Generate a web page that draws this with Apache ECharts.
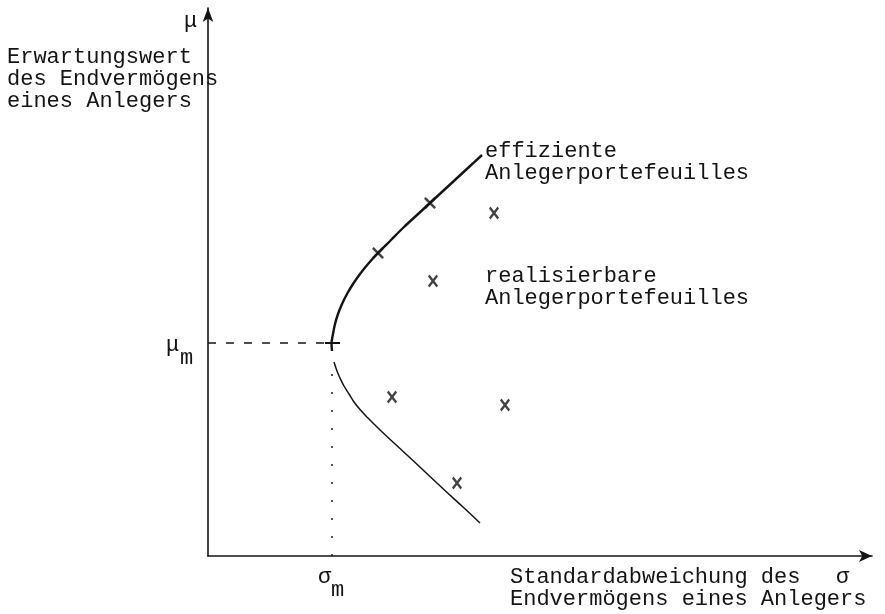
<!DOCTYPE html>
<html>
<head>
<meta charset="utf-8">
<script src="https://cdn.jsdelivr.net/npm/echarts@6/dist/echarts.min.js"></script>
<style>
  html, body { margin: 0; padding: 0; background: #fff; }
  #chart { width: 885px; height: 614px; }
</style>
</head>
<body>
<div id="chart"></div>
<script>
// sigma / mu in drawing units (origin at the axis crossing)
var efficientFrontier = [
  [274, 401], [261, 389], [248, 377], [235, 365], [222, 353], [209, 341],
  [196, 329], [183, 316], [170, 303], [160, 292], [152, 282], [145, 272],
  [139, 262], [134, 252], [130, 242], [127, 232], [125, 222], [123.5, 213], [124, 205]
]
var lowerBranch = [
  [126, 194], [129, 185], [132, 178], [136, 170], [141, 162], [146, 154],
  [152, 146.5], [160, 138], [169, 129], [180, 118.5], [192, 107.5], [206, 94.5],
  [222, 79.5], [238, 64.5], [255, 49], [272, 33]
]
var feasiblePortfolios = [[286, 343], [225, 275], [184, 159], [297, 151], [249, 73]]
var frontierMarks = [[222, 353], [170, 303]]
var sigmaM = 123
var muM = 213
var xMax = 664
var yMax = 548

var FONT = '22px "Liberation Mono", "DejaVu Sans Mono", monospace'
var INK = '#141414'
var crossPath = 'path://M0,1.8L1.8,0L12,10.2L10.2,12Z M10.2,0L12,1.8L1.8,12L0,10.2Z'

var chart = echarts.init(document.getElementById('chart'), null, { renderer: 'canvas' })

function txt(x, y, text) {
  return {
    type: 'text',
    x: x,
    y: y,
    style: { text: text, font: FONT, fill: INK, lineHeight: 22 }
  }
}

chart.setOption({
  animation: false,
  backgroundColor: '#fff',
  grid: { left: 208, right: 13, top: 8, bottom: 58 },
  xAxis: {
    type: 'value', min: 0, max: xMax,
    axisLine: { show: true, lineStyle: { color: INK, width: 1.6 }, symbol: ['none', 'arrow'], symbolSize: [9, 13] },
    axisTick: { show: false }, axisLabel: { show: false }, splitLine: { show: false }
  },
  yAxis: {
    type: 'value', min: 0, max: yMax,
    axisLine: { show: true, lineStyle: { color: INK, width: 1.6 }, symbol: ['none', 'arrow'], symbolSize: [8, 14] },
    axisTick: { show: false }, axisLabel: { show: false }, splitLine: { show: false }
  },
  series: [
    {
      type: 'line', data: efficientFrontier, smooth: 0.3, showSymbol: false,
      lineStyle: { color: INK, width: 2.4 }
    },
    {
      type: 'line', data: lowerBranch, smooth: 0.4, showSymbol: false,
      lineStyle: { color: INK, width: 1.5 }
    },
    {
      type: 'line', data: [[0, muM], [sigmaM - 2, muM]], showSymbol: false,
      lineStyle: { color: INK, width: 1.3, type: [8, 10] }
    },
    {
      type: 'line', data: [[sigmaM - 6, muM], [sigmaM + 9, muM]], showSymbol: false,
      lineStyle: { color: INK, width: 2 }
    },
    {
      type: 'line', data: [[sigmaM + 1, 0], [sigmaM + 1, 186]], showSymbol: false,
      lineStyle: { color: INK, width: 1.5, type: [2, 16] }
    },
    {
      type: 'scatter', data: feasiblePortfolios, symbol: crossPath, symbolSize: [10, 13],
      itemStyle: { color: INK }
    },
    {
      type: 'scatter', data: frontierMarks, symbol: crossPath, symbolSize: [12, 12],
      itemStyle: { color: INK }
    }
  ],
  graphic: [
    txt(184, 10, 'μ'),
    txt(7, 46, 'Erwartungswert\ndes Endvermögens\neines Anlegers'),
    txt(166, 334, 'μ'),
    txt(180, 347, 'm'),
    txt(318, 566, 'σ'),
    txt(331, 579, 'm'),
    txt(510, 566, 'Standardabweichung des\nEndvermögens eines Anlegers'),
    txt(836, 566, 'σ'),
    txt(485, 140, 'effiziente\nAnlegerportefeuilles'),
    txt(485, 265, 'realisierbare\nAnlegerportefeuilles')
  ]
})
</script>
</body>
</html>
